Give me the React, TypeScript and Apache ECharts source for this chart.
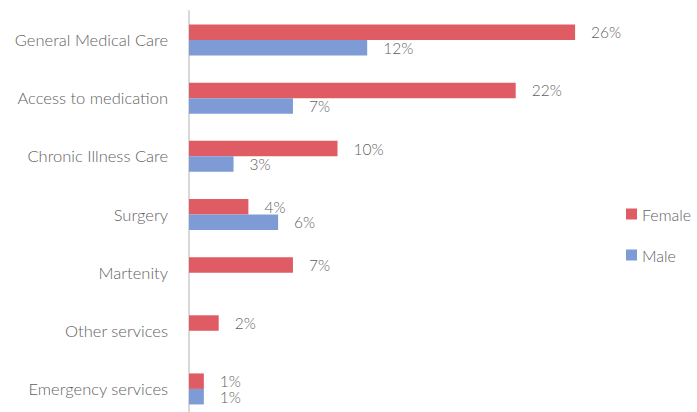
import React, { useEffect, useRef } from "react";
import * as echarts from "echarts";

const categories = [
  "General Medical Care",
  "Access to medication",
  "Chronic Illness Care",
  "Surgery",
  "Martenity",
  "Other services",
  "Emergency services",
];
const femaleValues: (number | null)[] = [26, 22, 10, 4, 7, 2, 1];
const maleValues: (number | null)[] = [12, 7, 3, 6, null, null, 1];

const FONT = "Lato, 'Open Sans', sans-serif";
const TEXT = "#5f5f5f";

export default function App() {
  const ref = useRef<HTMLDivElement>(null);
  useEffect(() => {
    if (!ref.current) return;
    const chart = echarts.init(ref.current, undefined, { renderer: "svg" });
    const label = {
      show: true,
      position: "right" as const,
      distance: 16,
      color: TEXT,
      fontSize: 15.5,
      fontWeight: 300,
      fontFamily: FONT,
      formatter: (p: any) => `${p.value}%`,
    };
    chart.setOption({
      animation: false,
      textStyle: { fontFamily: FONT },
      grid: { left: 189, top: 11, width: 445.5, height: 407, containLabel: false },
      legend: {
        orient: "vertical",
        left: 621,
        top: 201,
        itemWidth: 11,
        itemHeight: 11,
        itemGap: 25,
        icon: "rect",
        textStyle: { color: TEXT, fontSize: 16, fontWeight: 300, fontFamily: FONT },
        data: ["Female", "Male"],
      },
      xAxis: {
        type: "value",
        min: 0,
        max: 30,
        show: false,
        splitLine: { show: false },
      },
      yAxis: {
        type: "category",
        inverse: true,
        data: categories,
        axisLine: { show: true, lineStyle: { color: "#d9d9d9", width: 2 } },
        axisTick: { show: false },
        axisLabel: { color: TEXT, fontSize: 16.5, fontWeight: 300, fontFamily: FONT, margin: 21 },
      },
      series: [
        {
          name: "Female",
          type: "bar",
          data: femaleValues,
          barWidth: 15.5,
          barGap: "0%",
          itemStyle: { color: "#E05C65" },
          label,
        },
        {
          name: "Male",
          type: "bar",
          data: maleValues,
          barWidth: 15.5,
          barGap: "0%",
          itemStyle: { color: "#7E9BD5" },
          label,
        },
      ],
    });
    return () => chart.dispose();
  }, []);
  return (
    <div style={{ width: 697, height: 412, position: "absolute", left: 0, top: 0, overflow: "hidden" }}>
      <div ref={ref} style={{ width: 697, height: 420 }} />
    </div>
  );
}
